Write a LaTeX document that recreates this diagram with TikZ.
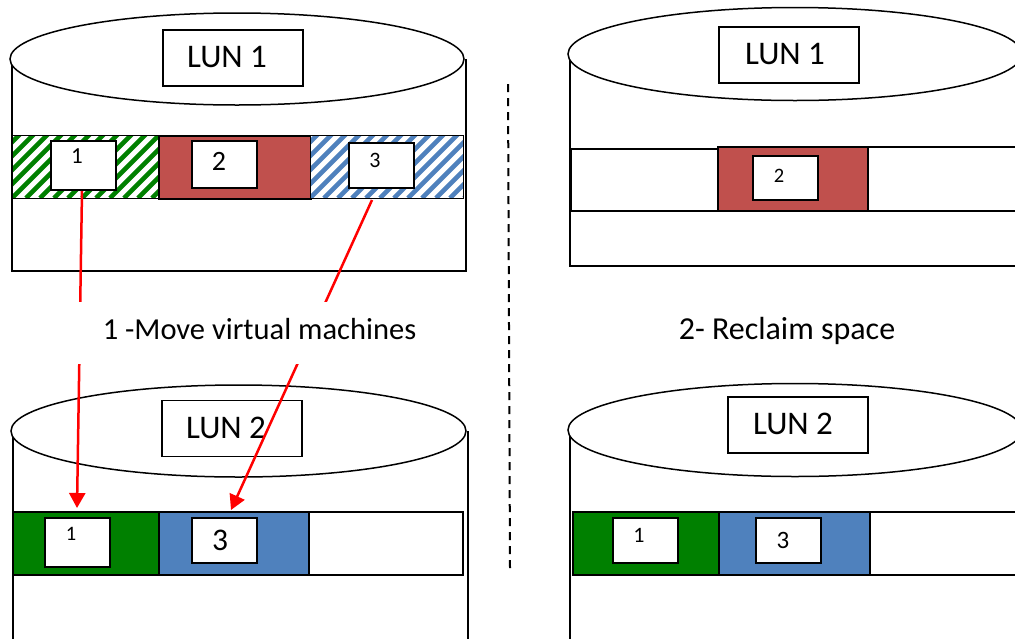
\documentclass[tikz,border=0pt]{standalone}
\usepackage{fontspec}
\setmainfont{Carlito}
\usetikzlibrary{arrows.meta}

\definecolor{vmgreen}{RGB}{0,128,0}
\definecolor{vmred}{RGB}{192,80,77}
\definecolor{vmblue}{RGB}{79,129,189}
\definecolor{moveline}{RGB}{255,0,0}

\tikzset{
  disk/.style={draw=black, line width=1.5pt, fill=white},
  side/.style={draw=black, line width=1.8pt},
  seg/.style={draw=black, line width=2pt, rectangle, inner sep=0pt, anchor=north west},
  vmbox/.style={draw=black, line width=2pt, fill=white, rectangle, inner sep=0pt, minimum width=65pt},
  lunbox/.style={draw=black, line width=1.5pt, fill=white, rectangle, inner sep=0pt,
                 minimum width=140pt, minimum height=56pt},
  luntext/.style={inner sep=0pt, font=\fontsize{33}{36}\selectfont},
  num/.style={inner sep=0pt},
  caption/.style={font=\fontsize{32}{36}\selectfont, inner sep=0pt},
  move/.style={draw=moveline, line width=2.5pt, -{Triangle[width=16pt,length=15pt]}},
  divider/.style={draw=black, line width=2pt, dash pattern=on 8pt off 6pt}
}

% hatched segment: #1 name, #2 colour, #3 x0, #4 y0, #5 x1, #6 y1
\newcommand{\hatchseg}[6]{%
  \fill[white] (#3,#4) rectangle (#5,#6);
  \begin{scope}
    \clip (#3,#4) rectangle (#5,#6);
    \foreach \k in {-84,-70,...,200}
      \draw[#2, line width=4.6pt] (#3+\k,#6) -- ++(80,-80);
  \end{scope}
  \node[draw=black, line width=1.4pt, rectangle, inner sep=0pt, anchor=north west,
        minimum width=#5-#3, minimum height=#6-#4] (#1) at (#3,#4) {};
}

\begin{document}
\begin{tikzpicture}[x=1pt, y=-1pt]
\clip (0,0) rectangle (1015,638);
\fill[white] (0,0) rectangle (1015,638);

% ---------------- LUN 1, before reclaim (top left) ----------------
\draw[side] (12,59) -- (12,271) -- (466,271) -- (466,59);
\draw[disk] (237,59) ellipse [x radius=227pt, y radius=46pt];
\node[lunbox] (lunA) at (233,58) {};
\node[luntext] (lunAtxt) at (227,57) {LUN 1};

\hatchseg{segA1}{vmgreen}{12}{135}{158}{198}
\node[seg, fill=vmred, minimum width=152pt, minimum height=63pt] (segA2) at (158,135) {};
\hatchseg{segA3}{vmblue}{310}{135}{463}{198}

\node[vmbox, minimum height=49pt] (vmA1) at (83.5,165.5) {};
\node[vmbox, minimum height=47pt] (vmA2) at (224.5,164.5) {};
\node[vmbox, minimum height=45pt] (vmA3) at (381.5,165.5) {};
\node[num, font=\fontsize{23}{24}\selectfont] (nA1) at (77,156) {1};
\node[num, font=\fontsize{28}{30}\selectfont] (nA2) at (219,161) {2};
\node[num, font=\fontsize{22}{24}\selectfont] (nA3) at (375,160) {3};

% ---------------- LUN 2, before reclaim (bottom left) ----------------
\draw[side] (13,431) -- (13,660) (468,660) -- (468,431);
\draw[disk] (238.5,431) ellipse [x radius=227.5pt, y radius=46pt];
\node[lunbox] (lunB) at (232,428.5) {};
\node[luntext] (lunBtxt) at (226,428) {LUN 2};

\node[seg, fill=vmgreen, minimum width=146pt, minimum height=63pt] (segB1) at (12,511) {};
\node[seg, fill=vmblue, minimum width=150pt, minimum height=63pt] (segB2) at (158,511) {};
\node[seg, fill=white, minimum width=154pt, minimum height=63pt] (segB3) at (308,511) {};

\node[vmbox, minimum height=49pt] (vmB1) at (77.5,542.5) {};
\node[vmbox, minimum height=45pt] (vmB3) at (224.5,540.5) {};
\node[num, font=\fontsize{20.5}{22}\selectfont] (nB1) at (71,534) {1};
\node[num, font=\fontsize{31.5}{33}\selectfont] (nB3) at (220,540) {3};

% ---------------- moving the virtual machines ----------------
\coordinate (fromA1) at (82,191);
\coordinate (fromA3) at (372,200);
\coordinate (toB1) at (77,508);
\coordinate (toB3) at (231,510);
\draw[move] (fromA1) -- (toB1);
\draw[move] (fromA3) -- (toB3);
\node[caption, fill=white, minimum width=380pt, minimum height=62pt] (movecap) at (259,333) {};
\node[caption, font=\fontsize{30.5}{34}\selectfont] (movetxt) at (259.5,329) {1 -Move virtual machines};

% ---------------- divider ----------------
\coordinate (divtop) at (508,84);
\coordinate (divbot) at (510,568);
\draw[divider] (divtop) -- (divbot);

% ---------------- LUN 1, after reclaim (top right) ----------------
\draw[side] (570,54) -- (570,266) -- (1030,266);
\draw[disk] (795,54) ellipse [x radius=227pt, y radius=46.5pt];
\node[lunbox] (lunC) at (789,55) {};
\node[luntext] (lunCtxt) at (785,54) {LUN 1};

\node[seg, fill=white, minimum width=147pt, minimum height=62pt] (segC1) at (570,148) {};
\node[seg, fill=white, minimum width=160pt, minimum height=64pt] (segC3) at (867,146) {};
\node[seg, fill=vmred, minimum width=150pt, minimum height=64pt] (segC2) at (717,146) {};
\node[vmbox, minimum height=44pt] (vmC2) at (785.5,178) {};
\node[num, font=\fontsize{20.5}{22}\selectfont] (nC2) at (779,176) {2};

\node[caption] (reclaimcap) at (787,331) {2- Reclaim space};

% ---------------- LUN 2, after reclaim (bottom right) ----------------
\draw[side] (570,430) -- (570,660);
\draw[disk] (795,430) ellipse [x radius=227pt, y radius=46.5pt];
\node[lunbox] (lunD) at (798,425) {};
\node[luntext] (lunDtxt) at (793,424) {LUN 2};

\node[seg, fill=vmgreen, minimum width=146pt, minimum height=63pt] (segD1) at (572,511) {};
\node[seg, fill=vmblue, minimum width=151pt, minimum height=63pt] (segD2) at (718,511) {};
\node[seg, fill=white, minimum width=160pt, minimum height=63pt] (segD3) at (869,511) {};

\node[vmbox, minimum height=45pt] (vmD1) at (645.5,540.5) {};
\node[vmbox, minimum height=45pt] (vmD3) at (788.5,540.5) {};
\node[num, font=\fontsize{22}{24}\selectfont] (nD1) at (639,535) {1};
\node[num, font=\fontsize{25}{27}\selectfont] (nD3) at (783,540) {3};
\end{tikzpicture}
\end{document}
